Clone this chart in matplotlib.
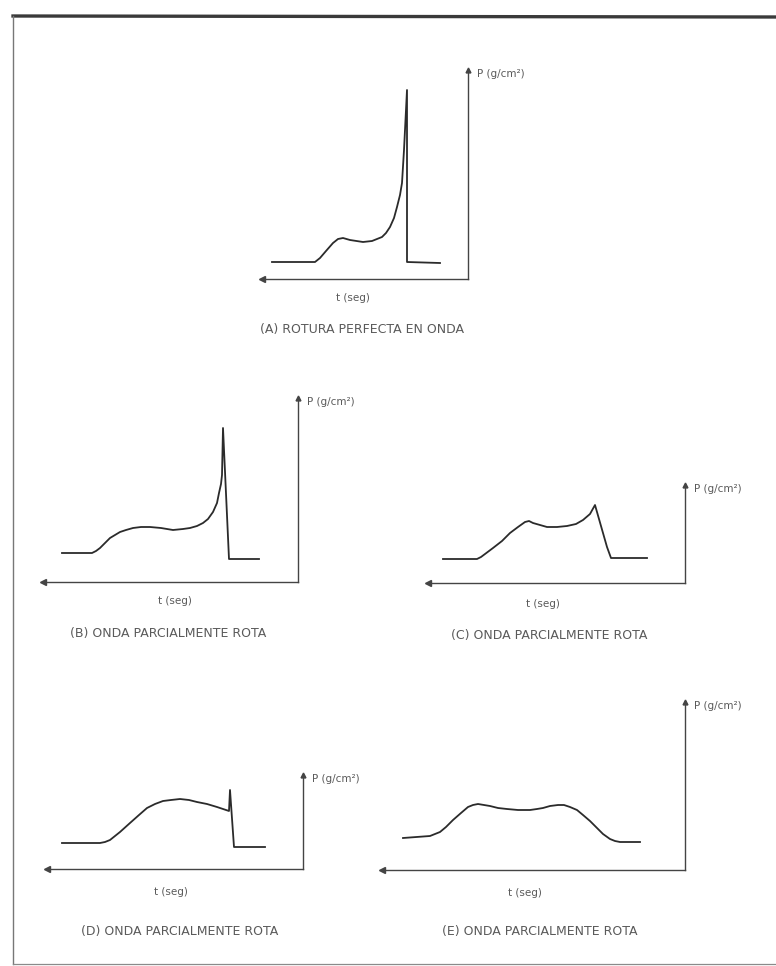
import matplotlib.pyplot as plt
from matplotlib.lines import Line2D

W, H = 776, 966

# pressure traces (t, P in arbitrary units)
a_t = [10, 53, 58, 64, 71, 76, 81, 88, 101, 110, 115, 120, 124, 128, 132, 135, 138, 140, 142, 145, 145, 178]
a_p = [17, 17, 21, 28, 36, 40, 41, 39, 37, 38, 40, 42, 46, 52, 61, 72, 84, 96, 129, 189, 17, 16]

b_t = [19, 49, 53, 57, 62, 67, 72, 77, 83, 90, 98, 107, 118, 130, 140, 147, 154, 160, 165, 170, 174, 176, 178, 179, 180, 186, 216]
b_p = [29, 29, 31, 34, 39, 44, 47, 50, 52, 54, 55, 55, 54, 52, 53, 54, 56, 59, 63, 70, 79, 89, 98, 107, 154, 23, 23]

c_t = [15, 49, 53, 57, 65, 74, 82, 90, 97, 101, 105, 112, 119, 129, 139, 148, 155, 162, 167, 171, 175, 179, 183, 219]
c_p = [24, 24, 26, 29, 35, 42, 50, 56, 61, 62, 60, 58, 56, 56, 57, 59, 63, 69, 78, 64, 50, 36, 25, 25]

d_t = [15, 53, 58, 63, 73, 83, 92, 100, 108, 116, 124, 133, 142, 150, 160, 170, 176, 182, 183, 187, 218]
d_p = [26, 26, 27, 29, 37, 46, 54, 61, 65, 68, 69, 70, 69, 67, 65, 62, 60, 58, 79, 22, 22]

e_t = [21, 48, 53, 58, 64, 71, 79, 86, 91, 96, 102, 108, 116, 125, 136, 148, 155, 161, 168, 176, 182, 188, 195, 201, 208, 215, 221, 228, 233, 238, 248, 258]
e_p = [32, 34, 36, 38, 43, 50, 57, 63, 65, 66, 65, 64, 62, 61, 60, 60, 61, 62, 64, 65, 65, 63, 60, 55, 49, 42, 36, 31, 29, 28, 28, 28]

titles = ["(A) ROTURA PERFECTA EN ONDA",
          "(B) ONDA PARCIALMENTE ROTA",
          "(C) ONDA PARCIALMENTE ROTA",
          "(D) ONDA PARCIALMENTE ROTA",
          "(E) ONDA PARCIALMENTE ROTA"]
x_label = "t (seg)"
y_label = "P (g/cm²)"

# panel boxes in pixels: left end of t axis, x of P axis, top of P axis, y of t axis
boxes = [(262, 468, 70, 279),
         (43, 298, 398, 582),
         (428, 685, 485, 583),
         (47, 303, 775, 869),
         (382, 685, 702, 870)]
series = [(a_t, a_p), (b_t, b_p), (c_t, c_p), (d_t, d_p), (e_t, e_p)]
tlab_pos = [(353, 298), (175, 601), (543, 604), (171, 892), (525, 893)]
title_pos = [(362, 330), (168, 633), (549, 636), (180, 931), (540, 932)]

ink = "#2b2b2b"
txt = "#5a5a5a"

fig = plt.figure(figsize=(W / 100, H / 100), dpi=100)
fig.patch.set_facecolor("white")


def fx(x):
    return x / W


def fy(y):
    return 1 - y / H


# outer frame of the scanned page
fig.add_artist(Line2D([fx(13), fx(776)], [fy(16), fy(17)], color="#3a3a3a", lw=2.4))
fig.add_artist(Line2D([fx(13), fx(13)], [fy(16), fy(964)], color="#777777", lw=1.0))
fig.add_artist(Line2D([fx(13), fx(776)], [fy(964), fy(964)], color="#8a8a8a", lw=0.9))

for (x0, x1, y0, y1), (t, p), tl, tp, title in zip(boxes, series, tlab_pos, title_pos, titles):
    ax = fig.add_axes([fx(x0), fy(y1), (x1 - x0) / W, (y1 - y0) / H])
    ax.set_xlim(0, x1 - x0)
    ax.set_ylim(0, y1 - y0)
    ax.patch.set_alpha(0)
    for s in ["top", "left"]:
        ax.spines[s].set_visible(False)
    for s in ["right", "bottom"]:
        ax.spines[s].set_color("#444444")
        ax.spines[s].set_linewidth(1.0)
    ax.set_xticks([])
    ax.set_yticks([])
    ax.plot(t, p, color=ink, lw=1.3, solid_joinstyle="round")
    # arrow heads: t axis points left, P axis points up
    ax.plot(0, 0, marker="<", ms=4, color="#444444", transform=ax.transAxes, clip_on=False)
    ax.plot(1, 1, marker="^", ms=3.5, color="#444444", transform=ax.transAxes, clip_on=False)

    fig.text(fx(x1 + 9), fy(y0 + 4), y_label, fontsize=7.5, color=txt, ha="left", va="center")
    fig.text(fx(tl[0]), fy(tl[1]), x_label, fontsize=7.5, color=txt, ha="center", va="center")
    fig.text(fx(tp[0]), fy(tp[1]), title, fontsize=9, color=txt, ha="center", va="center")

fig.savefig("out.png", dpi=100)
